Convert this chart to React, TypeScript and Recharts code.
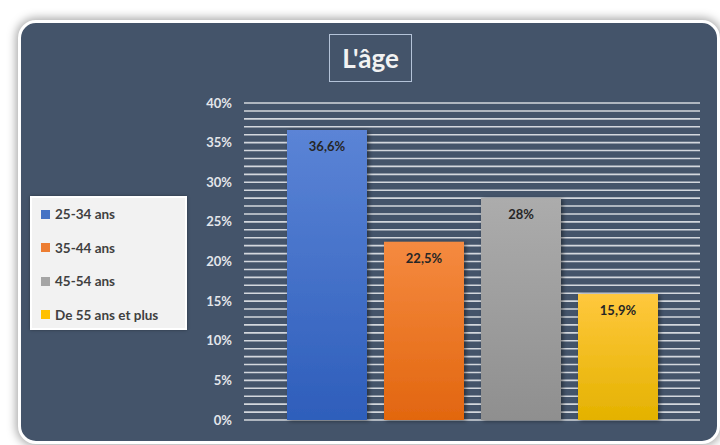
import React from 'react';
import { BarChart, Bar, XAxis, YAxis, CartesianGrid, LabelList } from 'recharts';

const categories = ['25-34 ans', '35-44 ans', '45-54 ans', 'De 55 ans et plus'];
const values = [36.6, 22.5, 28, 15.9];
const seriesKeys = ['s1', 's2', 's3', 's4'];
const colorsTop = ['#5B84D6', '#F58A40', '#ACACAC', '#FFC83D'];
const colorsBottom = ['#2E5EBB', '#E2660F', '#8F8F8F', '#E4B200'];
const legendColors = ['#4472C4', '#ED7D31', '#A5A5A5', '#FFC000'];
const yTicks = [0, 5, 10, 15, 20, 25, 30, 35, 40];
const gridTicks = [0, 1, 2, 3, 4, 5, 6, 7, 8, 9, 10, 11, 12, 13, 14, 15, 16, 17, 18, 19, 20, 21, 22, 23, 24, 25, 26, 27, 28, 29, 30, 31, 32, 33, 34, 35, 36, 37, 38, 39, 40];

const row: Record<string, any> = { name: 'age' };
seriesKeys.forEach((k, i) => (row[k] = values[i]));
const data = [row];

const font = 'Lato, "Open Sans", sans-serif';

const fmt = (v: any) => String(v).replace('.', ',') + '%';

const gridGen = (props: any) => {
  const s = props && props.yAxis && props.yAxis.scale;
  if (!s) return [];
  const f = typeof s === 'function' ? s : s.map ? (v: number) => s.map(v) : null;
  if (!f) return [];
  return gridTicks.map((t) => f(t));
};

const LegendBox = () => (
  <div
    style={{
      position: 'absolute',
      left: 30,
      top: 196,
      width: 153,
      height: 130,
      background: '#F2F2F2',
      border: '2px solid #FFFFFF',
      boxShadow: '0 0 3px rgba(0,0,0,0.35)',
      fontFamily: font,
      fontWeight: 700,
      fontSize: 13.5,
      color: '#404040',
    }}
  >
    {categories.map((c, i) => (
      <div key={c} style={{ position: 'absolute', left: 9, top: 7 + i * 33.5, display: 'flex', alignItems: 'center', height: 18 }}>
        <div style={{ width: 9, height: 9, background: legendColors[i], marginRight: 5 }} />
        <span style={{ whiteSpace: 'nowrap' }}>{c}</span>
      </div>
    ))}
  </div>
);

export default function App() {
  return (
    <div style={{ position: 'fixed', left: 0, top: 0, width: 720, height: 445, background: '#FFFFFF', overflow: 'hidden' }}>
      <div
        style={{
          position: 'absolute',
          left: 18,
          top: 20,
          width: 696,
          height: 418,
          borderRadius: 18,
          border: '3px solid #FFFFFF',
          background: '#44546A',
          boxShadow: '0 0 10px 2px rgba(0,0,0,0.35)',
        }}
      />
      <div
        style={{
          position: 'absolute',
          left: 329,
          top: 34,
          width: 81,
          height: 46,
          border: '1px solid #B4C3D8',
          color: '#F2F2F2',
          fontFamily: font,
          fontWeight: 700,
          fontSize: 26,
          lineHeight: '46px',
          textAlign: 'center',
        }}
      >
        L'âge
      </div>
      <div style={{ position: 'absolute', left: 0, top: 0 }}>
        <BarChart width={720} height={445} data={data} margin={{ top: 103, right: 20, bottom: 25, left: 184 }} barGap={17}>
          <defs>
            {seriesKeys.map((k, i) => (
              <linearGradient key={k} id={'g' + k} x1="0" y1="0" x2="0" y2="1">
                <stop offset="0%" stopColor={colorsTop[i]} />
                <stop offset="100%" stopColor={colorsBottom[i]} />
              </linearGradient>
            ))}
            <filter id="shadow" x="-10%" y="-10%" width="130%" height="120%">
              <feDropShadow dx="2" dy="1" stdDeviation="2" floodColor="#000" floodOpacity="0.45" />
            </filter>
          </defs>
          <CartesianGrid vertical={false} stroke="#D3D7DD" strokeWidth={1.6} horizontalCoordinatesGenerator={gridGen} />
          <XAxis dataKey="name" hide />
          <YAxis
            domain={[0, 40]}
            ticks={yTicks}
            width={60}
            axisLine={false}
            tickLine={false}
            tickSize={0}
            tickMargin={12}
            tickFormatter={(v: number) => v + '%'}
            tick={{ fill: '#E3E6EA', fontFamily: font, fontWeight: 700, fontSize: 13 }}
          />
          {seriesKeys.map((k, i) => (
            <Bar
              key={k}
              dataKey={k}
              name={categories[i]}
              barSize={80}
              fill={'url(#g' + k + ')'}
              isAnimationActive={false}
              style={{ filter: 'url(#shadow)' }}
            >
              <LabelList
                dataKey={k}
                position="insideTop"
                offset={12}
                formatter={fmt}
                style={{ fill: '#262626', fontFamily: font, fontWeight: 700, fontSize: 13 }}
              />
            </Bar>
          ))}
        </BarChart>
      </div>
      <LegendBox />
    </div>
  );
}
